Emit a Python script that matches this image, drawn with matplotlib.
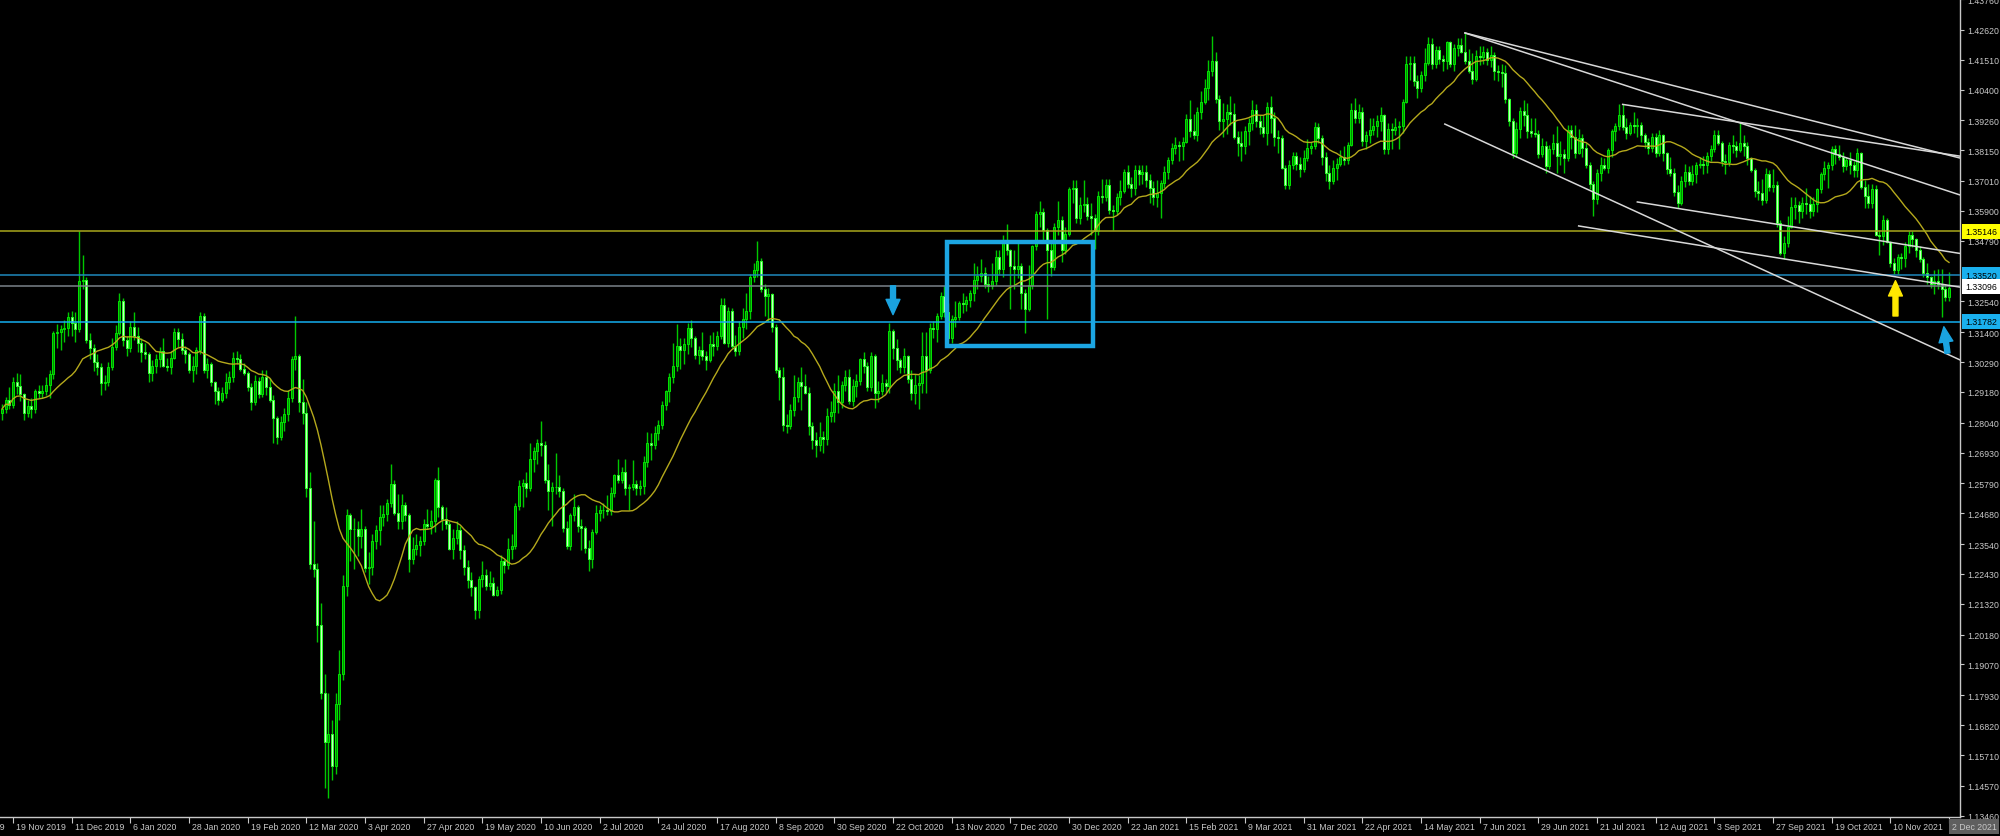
import numpy as np
import pandas as pd
import matplotlib
matplotlib.use("Agg")
import matplotlib.pyplot as plt
import matplotlib.transforms as mtransforms
from matplotlib.patches import Rectangle, FancyArrowPatch

plt.rcParams["font.family"] = ["Liberation Sans", "DejaVu Sans"]

# GBPUSD daily candles, 14 Nov 2019 .. 2 Dec 2021, prices in points (12855 -> 1.2855)
# one row per date label (16 bars)
opens = [
    12840, 12855, 12890,
    12870, 12955, 12940, 12910, 12840, 12865, 12855, 12920, 12915, 12920, 12945, 12985, 13135, 13140, 13150, 13155,
    13195, 13175, 13150, 13330, 13335, 13110, 13080, 13030, 13010, 12950, 12955, 13010, 13085, 13135, 13255, 13110,
    13080, 13160, 13125, 13100, 13065, 13060, 12990, 13015, 13040, 13070, 13015, 13010, 13045, 13140, 13115, 13075,
    13060, 13000, 13015, 13075, 13200, 13000, 13020, 12955, 12920, 12890, 12915, 12955, 12975, 13045, 13040, 13005,
    12990, 12935, 12880, 12960, 12910, 12975, 12935, 12890, 12820, 12750, 12805, 12835, 12895, 13040, 13050, 12880,
    12840, 12560, 12280, 12260, 12055, 11800, 11620, 11650, 11530, 11760, 11870, 12200, 12460, 12410, 12410, 12385,
    12410, 12265, 12270, 12365, 12405, 12455, 12465, 12505, 12575, 12470, 12440, 12500, 12460, 12300, 12335, 12350,
    12365, 12430, 12420, 12440, 12590, 12490, 12445, 12430, 12335, 12375, 12405, 12330, 12270, 12220, 12195, 12110,
    12225, 12240, 12200, 12210, 12165, 12185, 12290, 12275, 12335, 12345, 12495, 12570, 12580, 12560, 12670, 12700,
    12730, 12720, 12590, 12550, 12565, 12565, 12550, 12415, 12345, 12460, 12490, 12420, 12415, 12340, 12300, 12400,
    12470, 12480, 12480, 12475, 12545, 12610, 12590, 12620, 12560, 12565, 12575, 12560, 12570, 12660, 12730, 12720,
    12765, 12795, 12870, 12920, 12975, 13015, 13090, 13075, 13095, 13155, 13120, 13055, 13075, 13050, 13035, 13095,
    13090, 13125, 13240, 13100, 13220, 13090, 13070, 13160, 13190, 13220, 13345, 13370, 13405, 13300, 13275, 13280,
    13160, 13000, 12975, 12795, 12790, 12850, 12900, 12955, 12940, 12915, 12790, 12740, 12720, 12750, 12745, 12830,
    12845, 12920, 12880, 12945, 12975, 12885, 12940, 12960, 13040, 13015, 12935, 13050, 12915, 12920, 12950, 12940,
    13145, 13080, 13035, 13010, 13050, 12965, 12915, 12945, 12950, 13050, 13000, 13155, 13150, 13200, 13275, 13215,
    13120, 13190, 13195, 13250, 13245, 13260, 13285, 13335, 13350, 13360, 13320, 13310, 13330, 13420, 13375, 13475,
    13445, 13385, 13375, 13385, 13285, 13225, 13315, 13460, 13580, 13585, 13520, 13445, 13380, 13530, 13555, 13445,
    13505, 13670, 13675, 13565, 13610, 13615, 13570, 13565, 13515, 13645, 13640, 13685, 13595, 13590, 13640, 13665,
    13735, 13690, 13675, 13740, 13725, 13735, 13705, 13675, 13640, 13655, 13695, 13735, 13780, 13825, 13835, 13830,
    13845, 13930, 13885, 13870, 13955, 13995, 14045, 14110, 14145, 14005, 13925, 13930, 13955, 13950, 13865, 13840,
    13830, 13885, 13915, 13965, 13925, 13900, 13880, 13975, 13935, 13865, 13860, 13750, 13685, 13760, 13795, 13765,
    13745, 13785, 13825, 13830, 13900, 13860, 13790, 13730, 13700, 13750, 13765, 13790, 13780, 13835, 13965, 13935,
    13955, 13850, 13870, 13890, 13905, 13925, 13945, 13820, 13895, 13890, 13900, 13905, 13995, 14135, 14140, 14070,
    14045, 14095, 14140, 14210, 14135, 14185, 14155, 14145, 14215, 14135, 14195, 14205, 14180, 14145, 14110, 14080,
    14165, 14160, 14180, 14150, 14170, 14110, 14105, 14100, 14005, 13925, 13805, 13895, 13960, 13945, 13885, 13880,
    13875, 13800, 13830, 13755, 13820, 13840, 13795, 13800, 13785, 13890, 13865, 13805, 13860, 13825, 13760, 13690,
    13635, 13730, 13760, 13750, 13815, 13885, 13905, 13945, 13900, 13880, 13910, 13905, 13910, 13870, 13845, 13825,
    13865, 13805, 13870, 13805, 13745, 13730, 13660, 13620, 13700, 13735, 13700, 13725, 13760, 13765, 13760, 13795,
    13820, 13870, 13840, 13775, 13770, 13835, 13830, 13815, 13840, 13830, 13785, 13740, 13665, 13655, 13630, 13725,
    13680, 13685, 13545, 13435, 13470, 13530, 13605, 13610, 13590, 13620, 13615, 13590, 13615, 13670, 13725, 13750,
    13760, 13820, 13800, 13790, 13755, 13780, 13760, 13740, 13805, 13680, 13645, 13620, 13670, 13500, 13495, 13555,
    13475, 13395, 13370, 13420, 13415, 13460, 13500, 13485, 13445, 13410, 13360, 13345, 13320, 13330, 13320, 13300,
    13270,
]
highs = [
    12875, 12900, 12935,
    12975, 12990, 12985, 12915, 12890, 12895, 12930, 12945, 12945, 12975, 13000, 13145, 13170, 13165, 13185, 13215,
    13220, 13215, 13515, 13425, 13345, 13135, 13095, 13060, 13025, 12980, 13030, 13120, 13165, 13285, 13265, 13125,
    13180, 13215, 13160, 13120, 13100, 13065, 13035, 13060, 13085, 13120, 13045, 13070, 13155, 13155, 13135, 13090,
    13065, 13050, 13085, 13215, 13210, 13045, 13030, 12960, 12935, 12935, 12990, 12995, 13065, 13070, 13060, 13025,
    12995, 12950, 12980, 12975, 13000, 13000, 12970, 12905, 12830, 12830, 12860, 12925, 13050, 13200, 13060, 12965,
    12880, 12620, 12440, 12285, 12135, 11870, 11800, 11700, 11800, 11960, 12240, 12485, 12470, 12450, 12440, 12485,
    12420, 12325, 12390, 12425, 12500, 12500, 12520, 12650, 12590, 12540, 12540, 12510, 12470, 12380, 12390, 12385,
    12445, 12485, 12480, 12600, 12640, 12500, 12490, 12440, 12410, 12440, 12420, 12350, 12295, 12250, 12200, 12235,
    12290, 12260, 12255, 12230, 12200, 12315, 12300, 12375, 12390, 12505, 12590, 12595, 12620, 12730, 12715, 12745,
    12810, 12735, 12650, 12585, 12690, 12610, 12560, 12440, 12470, 12540, 12500, 12445, 12420, 12370, 12410, 12500,
    12500, 12505, 12535, 12565, 12615, 12670, 12640, 12670, 12575, 12665, 12590, 12590, 12680, 12770, 12765, 12790,
    12815, 12885, 12925, 12990, 13100, 13170, 13120, 13120, 13175, 13185, 13125, 13090, 13140, 13070, 13130, 13140,
    13145, 13265, 13265, 13235, 13230, 13130, 13180, 13230, 13285, 13355, 13395, 13480, 13415, 13320, 13305, 13285,
    13170, 13010, 13010, 12835, 12875, 12980, 12975, 13010, 12985, 12935, 12805, 12770, 12805, 12775, 12860, 12885,
    12950, 12980, 12960, 13000, 13005, 12965, 12985, 13045, 13065, 13030, 13065, 13060, 12960, 12985, 12965, 13175,
    13150, 13115, 13045, 13080, 13055, 13000, 12985, 12980, 13140, 13140, 13175, 13180, 13210, 13290, 13310, 13250,
    13205, 13255, 13255, 13285, 13275, 13295, 13395, 13385, 13410, 13380, 13350, 13395, 13445, 13445, 13500, 13540,
    13450, 13445, 13475, 13395, 13300, 13390, 13465, 13590, 13625, 13600, 13525, 13470, 13545, 13625, 13570, 13530,
    13680, 13705, 13705, 13640, 13705, 13640, 13620, 13580, 13665, 13710, 13710, 13710, 13610, 13655, 13705, 13745,
    13760, 13715, 13760, 13760, 13760, 13760, 13725, 13700, 13705, 13705, 13755, 13790, 13840, 13865, 13850, 13865,
    13950, 14000, 13950, 13975, 14035, 14080, 14150, 14240, 14180, 14020, 13990, 13985, 14015, 13990, 13885, 13885,
    13905, 13935, 14000, 13985, 13945, 13945, 13995, 14015, 13955, 13890, 13870, 13760, 13780, 13810, 13810, 13790,
    13815, 13855, 13845, 13920, 13915, 13870, 13810, 13760, 13780, 13785, 13815, 13830, 13845, 13990, 14010, 13985,
    13975, 13885, 13935, 13935, 13945, 13975, 13950, 13915, 13915, 13935, 13925, 14005, 14165, 14165, 14165, 14095,
    14110, 14195, 14235, 14230, 14200, 14200, 14170, 14220, 14220, 14210, 14230, 14230, 14250, 14190, 14175, 14185,
    14200, 14200, 14195, 14200, 14180, 14130, 14135, 14130, 14010, 13935, 13920, 13975, 14000, 13990, 13935, 13935,
    13890, 13860, 13850, 13835, 13875, 13905, 13850, 13820, 13910, 13910, 13910, 13895, 13875, 13840, 13770, 13700,
    13745, 13790, 13785, 13825, 13895, 13915, 13985, 13985, 13935, 13920, 13955, 13935, 13920, 13880, 13860, 13880,
    13880, 13890, 13875, 13810, 13790, 13750, 13685, 13720, 13765, 13755, 13760, 13770, 13790, 13795, 13810, 13835,
    13890, 13890, 13850, 13800, 13845, 13870, 13850, 13915, 13870, 13845, 13790, 13750, 13700, 13710, 13750, 13740,
    13745, 13700, 13555, 13495, 13570, 13640, 13640, 13625, 13640, 13675, 13645, 13640, 13675, 13735, 13775, 13770,
    13830, 13835, 13835, 13810, 13790, 13810, 13775, 13825, 13810, 13705, 13690, 13690, 13685, 13520, 13575, 13565,
    13480, 13415, 13430, 13435, 13475, 13515, 13515, 13490, 13460, 13420, 13395, 13350, 13370, 13375, 13375, 13320,
    13365,
]
lows = [
    12815, 12840, 12855,
    12860, 12910, 12885, 12815, 12825, 12820, 12840, 12895, 12895, 12905, 12895, 12965, 13080, 13075, 13105, 13125,
    13125, 13105, 13140, 13300, 13100, 13040, 12995, 12980, 12905, 12925, 12940, 13000, 13075, 13130, 13090, 13050,
    13065, 13110, 13065, 13030, 13040, 12955, 12960, 12990, 13010, 13010, 12995, 12985, 13040, 13085, 13060, 13025,
    12990, 12955, 12985, 13060, 12990, 12970, 12940, 12875, 12870, 12880, 12895, 12930, 12955, 13020, 12995, 12980,
    12920, 12850, 12870, 12895, 12900, 12905, 12880, 12730, 12725, 12740, 12775, 12810, 12880, 13000, 12845, 12800,
    12530, 12260, 12230, 11990, 11780, 11450, 11410, 11480, 11500, 11700, 11850, 12160, 12290, 12260, 12310, 12340,
    12250, 12205, 12240, 12335, 12350, 12420, 12440, 12490, 12460, 12410, 12410, 12440, 12250, 12280, 12315, 12310,
    12350, 12410, 12390, 12400, 12455, 12405, 12410, 12330, 12300, 12355, 12300, 12240, 12190, 12160, 12075, 12080,
    12195, 12185, 12185, 12160, 12160, 12170, 12245, 12260, 12300, 12335, 12480, 12490, 12530, 12550, 12620, 12650,
    12680, 12580, 12480, 12420, 12540, 12530, 12400, 12335, 12330, 12440, 12400, 12330, 12320, 12255, 12265, 12390,
    12440, 12450, 12460, 12460, 12530, 12580, 12580, 12535, 12480, 12555, 12535, 12535, 12540, 12640, 12665, 12705,
    12740, 12780, 12850, 12880, 12950, 12995, 13005, 13020, 13060, 13085, 13040, 13020, 13035, 13000, 13030, 13050,
    13075, 13115, 13095, 13085, 13080, 13050, 13055, 13120, 13150, 13190, 13325, 13345, 13290, 13200, 13180, 13140,
    12990, 12890, 12775, 12765, 12780, 12830, 12880, 12850, 12910, 12760, 12705, 12675, 12700, 12690, 12720, 12805,
    12805, 12840, 12860, 12920, 12875, 12865, 12900, 12945, 12990, 12920, 12920, 12860, 12880, 12905, 12915, 12915,
    13040, 13000, 12990, 12990, 12950, 12890, 12875, 12855, 12915, 12915, 12990, 13120, 13105, 13190, 13195, 13105,
    13100, 13160, 13185, 13210, 13220, 13235, 13255, 13300, 13325, 13305, 13290, 13300, 13315, 13355, 13345, 13425,
    13225, 13300, 13340, 13225, 13135, 13220, 13300, 13445, 13530, 13475, 13190, 13350, 13370, 13500, 13400, 13430,
    13495, 13620, 13545, 13540, 13585, 13555, 13500, 13450, 13500, 13620, 13625, 13580, 13520, 13575, 13610, 13655,
    13675, 13640, 13650, 13685, 13690, 13680, 13620, 13610, 13605, 13565, 13675, 13710, 13765, 13800, 13775, 13780,
    13840, 13865, 13855, 13850, 13930, 13985, 14000, 14090, 13990, 13890, 13865, 13875, 13910, 13855, 13795, 13775,
    13800, 13835, 13890, 13900, 13875, 13865, 13835, 13880, 13830, 13805, 13745, 13670, 13670, 13745, 13740, 13715,
    13735, 13775, 13800, 13820, 13840, 13760, 13700, 13670, 13690, 13705, 13755, 13760, 13765, 13830, 13915, 13915,
    13830, 13820, 13840, 13870, 13865, 13885, 13800, 13800, 13820, 13870, 13820, 13880, 13990, 14075, 14055, 14010,
    14030, 14070, 14130, 14115, 14120, 14135, 14110, 14115, 14125, 14110, 14165, 14175, 14135, 14100, 14060, 14070,
    14130, 14135, 14130, 14125, 14075, 14070, 14050, 13990, 13905, 13785, 13790, 13860, 13905, 13860, 13865, 13865,
    13785, 13790, 13730, 13745, 13800, 13730, 13760, 13730, 13775, 13820, 13785, 13800, 13790, 13750, 13670, 13570,
    13615, 13700, 13740, 13730, 13790, 13850, 13890, 13890, 13855, 13870, 13880, 13865, 13845, 13825, 13800, 13810,
    13790, 13795, 13775, 13725, 13720, 13645, 13600, 13610, 13680, 13685, 13685, 13695, 13750, 13725, 13730, 13775,
    13810, 13835, 13755, 13725, 13755, 13805, 13790, 13810, 13795, 13760, 13735, 13640, 13630, 13610, 13620, 13665,
    13660, 13530, 13425, 13410, 13455, 13525, 13560, 13545, 13565, 13580, 13565, 13570, 13585, 13655, 13705, 13675,
    13740, 13765, 13780, 13735, 13740, 13725, 13715, 13715, 13670, 13600, 13600, 13600, 13495, 13425, 13465, 13470,
    13380, 13355, 13355, 13375, 13380, 13435, 13455, 13420, 13400, 13345, 13320, 13305, 13280, 13300, 13195, 13255,
    13255,
]
closes = [
    12855, 12890, 12870,
    12955, 12940, 12910, 12840, 12865, 12855, 12920, 12915, 12920, 12945, 12985, 13135, 13140, 13150, 13155, 13195,
    13175, 13150, 13330, 13335, 13110, 13080, 13030, 13010, 12950, 12955, 13010, 13085, 13135, 13255, 13110, 13080,
    13160, 13125, 13100, 13065, 13060, 12990, 13015, 13040, 13070, 13015, 13010, 13045, 13140, 13115, 13075, 13060,
    13000, 13015, 13075, 13200, 13000, 13020, 12955, 12920, 12890, 12915, 12955, 12975, 13045, 13040, 13005, 12990,
    12935, 12880, 12960, 12910, 12975, 12935, 12890, 12820, 12750, 12805, 12835, 12895, 13040, 13050, 12880, 12840,
    12560, 12280, 12260, 12055, 11800, 11620, 11650, 11530, 11760, 11870, 12200, 12460, 12410, 12410, 12385, 12410,
    12265, 12270, 12365, 12405, 12455, 12465, 12505, 12575, 12470, 12440, 12500, 12460, 12300, 12335, 12350, 12365,
    12430, 12420, 12440, 12590, 12490, 12445, 12430, 12335, 12375, 12405, 12330, 12270, 12220, 12195, 12110, 12225,
    12240, 12200, 12210, 12165, 12185, 12290, 12275, 12335, 12345, 12495, 12570, 12580, 12560, 12670, 12700, 12730,
    12720, 12590, 12550, 12565, 12565, 12550, 12415, 12345, 12460, 12490, 12420, 12415, 12340, 12300, 12400, 12470,
    12480, 12480, 12475, 12545, 12610, 12590, 12620, 12560, 12565, 12575, 12560, 12570, 12660, 12730, 12720, 12765,
    12795, 12870, 12920, 12975, 13015, 13090, 13075, 13095, 13155, 13120, 13055, 13075, 13050, 13035, 13095, 13090,
    13125, 13240, 13100, 13220, 13090, 13070, 13160, 13190, 13220, 13345, 13370, 13405, 13300, 13275, 13280, 13160,
    13000, 12975, 12795, 12790, 12850, 12900, 12955, 12940, 12915, 12790, 12740, 12720, 12750, 12745, 12830, 12845,
    12920, 12880, 12945, 12975, 12885, 12940, 12960, 13040, 13015, 12935, 13050, 12915, 12920, 12950, 12940, 13145,
    13080, 13035, 13010, 13050, 12965, 12915, 12945, 12950, 13050, 13000, 13155, 13150, 13200, 13275, 13215, 13120,
    13190, 13195, 13250, 13245, 13260, 13285, 13335, 13350, 13360, 13320, 13310, 13330, 13420, 13375, 13475, 13445,
    13385, 13375, 13385, 13285, 13225, 13315, 13460, 13580, 13585, 13520, 13445, 13380, 13530, 13555, 13445, 13505,
    13670, 13675, 13565, 13610, 13615, 13570, 13565, 13515, 13645, 13640, 13685, 13595, 13590, 13640, 13665, 13735,
    13690, 13675, 13740, 13725, 13735, 13705, 13675, 13640, 13655, 13695, 13735, 13780, 13825, 13835, 13830, 13845,
    13930, 13885, 13870, 13955, 13995, 14045, 14110, 14145, 14005, 13925, 13930, 13955, 13950, 13865, 13840, 13830,
    13885, 13915, 13965, 13925, 13900, 13880, 13975, 13935, 13865, 13860, 13750, 13685, 13760, 13795, 13765, 13745,
    13785, 13825, 13830, 13900, 13860, 13790, 13730, 13700, 13750, 13765, 13790, 13780, 13835, 13965, 13935, 13955,
    13850, 13870, 13890, 13905, 13925, 13945, 13820, 13895, 13890, 13900, 13905, 13995, 14135, 14140, 14070, 14045,
    14095, 14140, 14210, 14135, 14185, 14155, 14145, 14215, 14135, 14195, 14205, 14180, 14145, 14110, 14080, 14165,
    14160, 14180, 14150, 14170, 14110, 14105, 14100, 14005, 13925, 13805, 13895, 13960, 13945, 13885, 13880, 13875,
    13800, 13830, 13755, 13820, 13840, 13795, 13800, 13785, 13890, 13865, 13805, 13860, 13825, 13760, 13690, 13635,
    13730, 13760, 13750, 13815, 13885, 13905, 13945, 13900, 13880, 13910, 13905, 13910, 13870, 13845, 13825, 13865,
    13805, 13870, 13805, 13745, 13730, 13660, 13620, 13700, 13735, 13700, 13725, 13760, 13765, 13760, 13795, 13820,
    13870, 13840, 13775, 13770, 13835, 13830, 13815, 13840, 13830, 13785, 13740, 13665, 13655, 13630, 13725, 13680,
    13685, 13545, 13435, 13470, 13530, 13605, 13610, 13590, 13620, 13615, 13590, 13615, 13670, 13725, 13750, 13760,
    13820, 13800, 13790, 13755, 13780, 13760, 13740, 13805, 13680, 13645, 13620, 13670, 13500, 13495, 13555, 13475,
    13395, 13370, 13420, 13415, 13460, 13500, 13485, 13445, 13410, 13360, 13345, 13320, 13330, 13320, 13300, 13270,
    13305,
]

# bottom axis: one label every 16 bars, first one ("28 Oct 2019") 16 bars before bar 3
date_labels = [
    "28 Oct 2019", "19 Nov 2019", "11 Dec 2019", "6 Jan 2020", "28 Jan 2020", "19 Feb 2020",
    "12 Mar 2020", "3 Apr 2020", "27 Apr 2020", "19 May 2020", "10 Jun 2020", "2 Jul 2020",
    "24 Jul 2020", "17 Aug 2020", "8 Sep 2020", "30 Sep 2020", "22 Oct 2020", "13 Nov 2020",
    "7 Dec 2020", "30 Dec 2020", "22 Jan 2021", "15 Feb 2021", "9 Mar 2021", "31 Mar 2021",
    "22 Apr 2021", "14 May 2021", "7 Jun 2021", "29 Jun 2021", "21 Jul 2021", "12 Aug 2021",
    "3 Sep 2021", "27 Sep 2021", "19 Oct 2021", "10 Nov 2021", "2 Dec 2021",
]
first_label_bar = -13

price_ticks = [
    1.43760, 1.42620, 1.41510, 1.40400, 1.39260, 1.38150, 1.37010, 1.35900, 1.34790,
    1.32540, 1.31400, 1.30290, 1.29180, 1.28040, 1.26930, 1.25790, 1.24680, 1.23540,
    1.22430, 1.21320, 1.20180, 1.19070, 1.17930, 1.16820, 1.15710, 1.14570, 1.13460,
]

# horizontal levels drawn on the chart
levels = [1.35146, 1.33520, 1.33096, 1.31782]
level_colors = ["#a9a81c", "#1f88bc", "#7a828a", "#14aef0"]
level_label_bg = ["#ffff00", "#1ab0ee", "#ffffff", "#1ab0ee"]

# trend lines: (bar, price) -> (bar, price)
trend_lines = [
    [(399.0, 1.4250), (534.0, 1.3786)],
    [(399.0, 1.4250), (534.0, 1.3649)],
    [(442.0, 1.3985), (534.0, 1.3793)],
    [(393.5, 1.3912), (534.0, 1.3037)],
    [(446.0, 1.3623), (534.0, 1.3432)],
    [(430.0, 1.3534), (534.0, 1.3307)],
]

box = (257.6, 1.3090, 297.5, 1.3473)  # bar0, price0, bar1, price1

arrows = [  # tail, tip, colour
    ((243.0, 1.3312), (243.0, 1.3205), "#1aa3e0"),
    ((516.4, 1.3200), (516.4, 1.3331), "#ffe800"),
    ((530.6, 1.3062), (529.6, 1.3160), "#1aa3e0"),
]

o = np.array(opens) / 10000
h = np.array(highs) / 10000
l = np.array(lows) / 10000
c = np.array(closes) / 10000
x = np.arange(len(c))
ma = pd.Series(c).rolling(20, min_periods=1).mean()

fig = plt.figure(figsize=(20, 8.37), dpi=100, facecolor="black")
ax = fig.add_axes([0, 19 / 837, 1960 / 2000, 818 / 837])
ax.set_facecolor("black")
ax.set_xlim(-0.55, 534.0)
ax.set_ylim(1.13412, 1.43759)

# candles
up = c >= o
ax.vlines(x, l, h, color="#00c800", lw=1, zorder=2)
ax.bar(x[up], (c - o)[up], bottom=o[up], width=0.62, color="#008f00",
       edgecolor="#00e600", linewidth=0.7, zorder=3)
ax.bar(x[~up], (o - c)[~up], bottom=c[~up], width=0.62, color="#c8ffc0",
       edgecolor="#2aff2a", linewidth=0.7, zorder=3)

ax.plot(x, ma, color="#b5a91c", lw=1, zorder=4)

for lvl, col in zip(levels, level_colors):
    ax.axhline(lvl, color=col, lw=1.1, zorder=5)

for (x0, y0), (x1, y1) in trend_lines:
    ax.plot([x0, x1], [y0, y1], color="#d8d8d8", lw=1.1, zorder=5)

ax.add_patch(Rectangle((box[0], box[1]), box[2] - box[0], box[3] - box[1],
                       fill=False, edgecolor="#1ca6e3", lw=3.2, zorder=6))

for tail, tip, col in arrows:
    ax.add_patch(FancyArrowPatch(tail, tip, color=col, zorder=8, mutation_scale=10,
                                 shrinkA=0, shrinkB=0,
                                 arrowstyle="simple,head_length=1.1,head_width=1.0,tail_width=0.36"))

# axes styling
for s in ["left", "top"]:
    ax.spines[s].set_visible(False)
for s in ["right", "bottom"]:
    ax.spines[s].set_color("#c8c8c8")
    ax.spines[s].set_linewidth(1)

ax.yaxis.tick_right()
ax.set_yticks(price_ticks)
ax.set_yticklabels([f"{p:.5f}" for p in price_ticks])
ax.tick_params(axis="y", colors="#c8c8c8", labelsize=6.3, length=3, width=0.8, pad=2)

label_bars = [first_label_bar + 16 * k for k in range(len(date_labels))]
ax.set_xticks([b for b in label_bars if b >= 0])
ax.set_xticklabels([])
ax.tick_params(axis="x", colors="#c8c8c8", length=4, width=0.8)

xtrans = mtransforms.blended_transform_factory(ax.transData, ax.transAxes)
for b, lab in zip(label_bars, date_labels):
    kw = {}
    if lab == date_labels[-1]:
        kw["bbox"] = dict(boxstyle="square,pad=0.3", fc="#5f5f5f", ec="none")
    ax.text(b + 0.8, -0.0115, lab, transform=xtrans, ha="left", va="center",
            fontsize=6.3, color="#c8c8c8", clip_on=False, **kw)

ytrans = mtransforms.blended_transform_factory(ax.transAxes, ax.transData)
for lvl, bg in zip(levels, level_label_bg):
    ax.text(1 + 5 / 1960, lvl, f"{lvl:.5f}", transform=ytrans, ha="left", va="center",
            fontsize=6.3, color="black", clip_on=False, zorder=10,
            bbox=dict(boxstyle="square,pad=0.35", fc=bg, ec="none"))

fig.savefig("out.png", dpi=100, facecolor="black")
